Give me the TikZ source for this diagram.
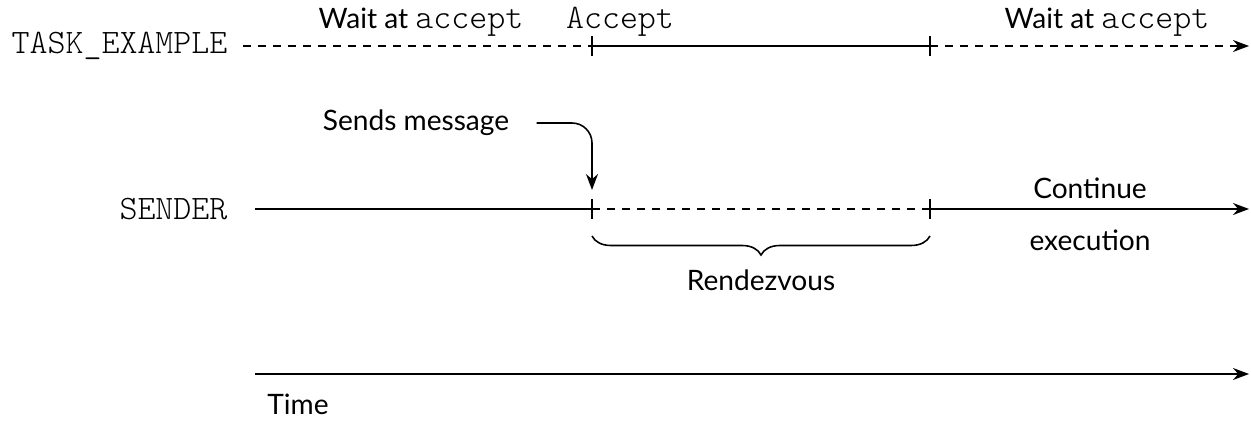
\documentclass[tikz,border=0pt]{standalone}
\usepackage{fontspec}
\setmainfont{Lato}
\setmonofont{lmmonolt10-regular.otf}
\usetikzlibrary{arrows.meta, decorations.pathreplacing}

\begin{document}
\begin{tikzpicture}[line width=0.9pt,
    every node/.style={font=\fontsize{16}{19}\selectfont, inner sep=1pt},
    mono/.style={font=\fontsize{19.5}{22}\selectfont\ttfamily},
    lbl/.style={mono, anchor=east},
    wait/.style={dash pattern=on 0.16cm off 0.14cm},
    arr/.style={-{Stealth[length=0.32cm, width=0.24cm]}},
    tick/.style={line width=0.9pt}]
  \useasboundingbox (0,0) rectangle (25.02,8.42);
  % time lines
  \coordinate (t0) at (4.86,7.50);
  \coordinate (t1) at (11.84,7.50);
  \coordinate (t2) at (18.60,7.50);
  \coordinate (t3) at (24.98,7.50);
  \coordinate (s0) at (5.10,4.24);
  \coordinate (s1) at (11.84,4.24);
  \coordinate (s2) at (18.60,4.24);
  \coordinate (s3) at (24.98,4.24);
  \coordinate (time0) at (5.10,0.94);
  \coordinate (time1) at (24.98,0.94);
  \node[lbl] (task) at (4.60,7.50) {TASK\_EXAMPLE};
  \node[lbl] (sender) at (4.60,4.24) {SENDER};
  \draw[wait] (t0) -- (t1);
  \draw (t1) -- (t2);
  \draw[wait, arr] (t2) -- (t3);
  \draw (s0) -- (s1);
  \draw[wait] (s1) -- (s2);
  \draw[arr] (s2) -- (s3);
  \draw[arr] (time0) -- (time1);
  \foreach \p in {t1,t2,s1,s2}
    \draw[tick] ([yshift=-0.2cm]\p) -- ([yshift=0.2cm]\p);
  \node (wait1) at (8.42,7.98) {Wait at {\fontsize{19.5}{22}\selectfont\ttfamily accept}};
  \node[mono] (accept) at (12.40,7.98) {Accept};
  \node (wait2) at (22.14,7.98) {Wait at {\fontsize{19.5}{22}\selectfont\ttfamily accept}};
  \node (msg) at (8.32,5.96) {Sends message};
  \coordinate (recv) at (11.84,4.62);
  \draw[arr, rounded corners=0.4cm] ([xshift=0.5cm]msg.east) -| (recv);
  \node (cont) at (21.80,4.66) {Continue};
  \node (exec) at (21.80,3.62) {execution};
  \draw[decorate, decoration={brace, mirror, amplitude=0.38cm}]
    ([yshift=-0.54cm]s1) -- ([yshift=-0.54cm]s2);
  \node (rdv) at (15.22,2.82) {Rendezvous};
  \node (time) at (5.96,0.33) {Time};
\end{tikzpicture}
\end{document}
